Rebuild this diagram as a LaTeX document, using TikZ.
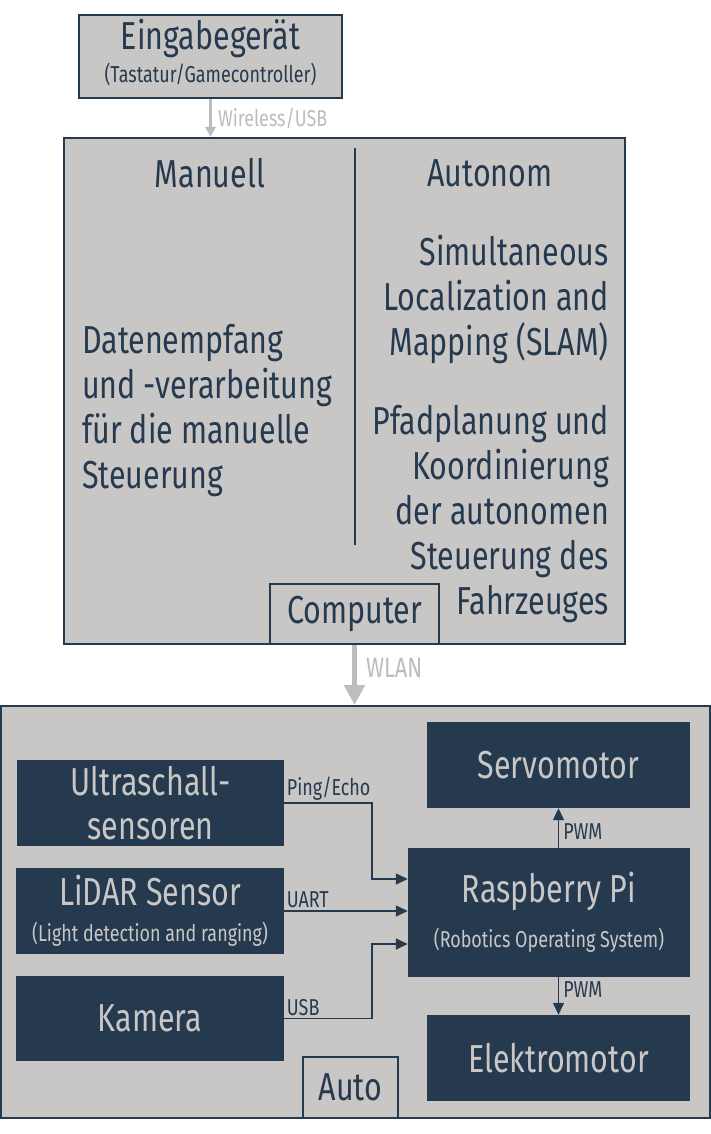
\documentclass[tikz,border=0pt]{standalone}
\usepackage{fontspec}
\setmainfont{Fira Sans}[FakeStretch=0.78]
\usepackage{xcolor}
\usetikzlibrary{arrows.meta}
\definecolor{navy}{HTML}{263A4F}
\definecolor{paper}{HTML}{C9C7C6}
\definecolor{pale}{HTML}{BEBDBD}
\newcommand{\bigtext}{\fontsize{39}{45}\selectfont}
\newcommand{\smalltext}{\fontsize{23}{26}\selectfont}
\begin{document}
\begin{tikzpicture}[x=1pt, y=-1pt,
    panel/.style={draw=navy, line width=2pt, fill=paper, inner sep=0pt},
    unit/.style={fill=navy, text=paper, inner sep=0pt, align=center, font=\bigtext},
    sig/.style={draw=navy, line width=1.5pt, -{Triangle[length=12pt, width=11pt]}},
    tag/.style={text=navy, font=\smalltext, inner sep=2pt}]
        \useasboundingbox[fill=white] (0,0) rectangle (711,1134);
        % Input device
        \node[panel, minimum width=263pt, minimum height=83pt] (eingabe) at (210.5,56.5) {};
        \node[text=navy, font=\bigtext, inner sep=0pt] (eingabename) at (210.5,38) {Eingabegerät};
        \node[text=navy, font=\smalltext, inner sep=0pt] (eingabeart) at (210.5,74) {(Tastatur/Gamecontroller)};
        % Computer
        \node[panel, minimum width=561pt, minimum height=506pt] (computer) at (344.5,391) {};
        \draw[navy, line width=1.5pt] (355,148) -- (355,545);
        \node[text=navy, font=\bigtext] (manuell) at (210,173) {Manuell};
        \node[text=navy, font=\bigtext] (autonom) at (490,173) {Autonom};
        \node[text=navy, font=\bigtext, align=left, anchor=west, inner sep=0pt] (empfang) at (82,410.5)
            {Datenempfang\\und -verarbeitung\\für die manuelle\\Steuerung};
        \node[text=navy, font=\bigtext, align=right, anchor=east, inner sep=0pt] (slam) at (609,299)
            {Simultaneous\\Localization and\\Mapping (SLAM)};
        \node[text=navy, font=\bigtext, align=right, anchor=east, inner sep=0pt] (pfad) at (609,514)
            {Pfadplanung und\\Koordinierung\\der autonomen\\Steuerung des\\Fahrzeuges};
        \node[panel, minimum width=169pt, minimum height=60pt, text=navy, font=\bigtext] (comptab) at (354.5,614) {Computer};
        % Vehicle
        \node[panel, minimum width=709pt, minimum height=412pt] (auto) at (355.5,912) {};
        \node[panel, minimum width=95pt, minimum height=61pt, text=navy, font=\bigtext] (autotab) at (350.5,1087.5) {Auto};
        \node[unit, minimum width=267pt, minimum height=86pt] (ultra) at (150.5,803) {Ultraschall-\\[-1pt]sensoren};
        \node[unit, minimum width=268pt, minimum height=86pt] (lidar) at (150,911)
            {LiDAR Sensor\\[-9pt]{\smalltext(Light detection and ranging)}};
        \node[unit, minimum width=268pt, minimum height=85pt] (kamera) at (150,1018.5) {Kamera};
        \node[unit, minimum width=263pt, minimum height=86pt] (servo) at (558.5,765) {Servomotor};
        \node[unit, minimum width=282pt, minimum height=129pt] (raspi) at (549,912.5)
            {Raspberry Pi\\[0pt]{\smalltext(Robotics Operating System)}};
        \node[unit, minimum width=263pt, minimum height=86pt] (elektro) at (558.5,1058) {Elektromotor};
        % Links
        \draw[pale, line width=3pt, -{Triangle[length=10pt, width=10pt]}] (eingabe.south) -- (eingabe.south |- computer.north)
            node[midway, right, text=pale, font=\smalltext, inner sep=6pt] {Wireless/USB};
        \draw[pale, line width=5pt, -{Triangle[length=20pt, width=20pt]}] (comptab.south) -- (comptab.south |- auto.north)
            node[pos=0.38, right, text=pale, font=\fontsize{28}{30}\selectfont, inner sep=9pt] {WLAN};
        \draw[sig] (ultra.east) node[tag, above right] {Ping/Echo} -- ++(88,0) |- ([yshift=33.5pt]raspi.west);
        \draw[sig] (lidar.east) node[tag, above right] {UART} -- (lidar.east -| raspi.west);
        \draw[sig] (kamera.east) node[tag, above right] {USB} -- ++(88,0) |- ([yshift=-31.5pt]raspi.west);
        \draw[sig] (servo.south |- raspi.north) -- (servo.south) node[tag, pos=0.4, right, inner sep=4pt] {PWM};
        \draw[sig] (elektro.north |- raspi.south) -- (elektro.north) node[tag, pos=0.34, right, inner sep=4pt] {PWM};
\end{tikzpicture}
\end{document}
